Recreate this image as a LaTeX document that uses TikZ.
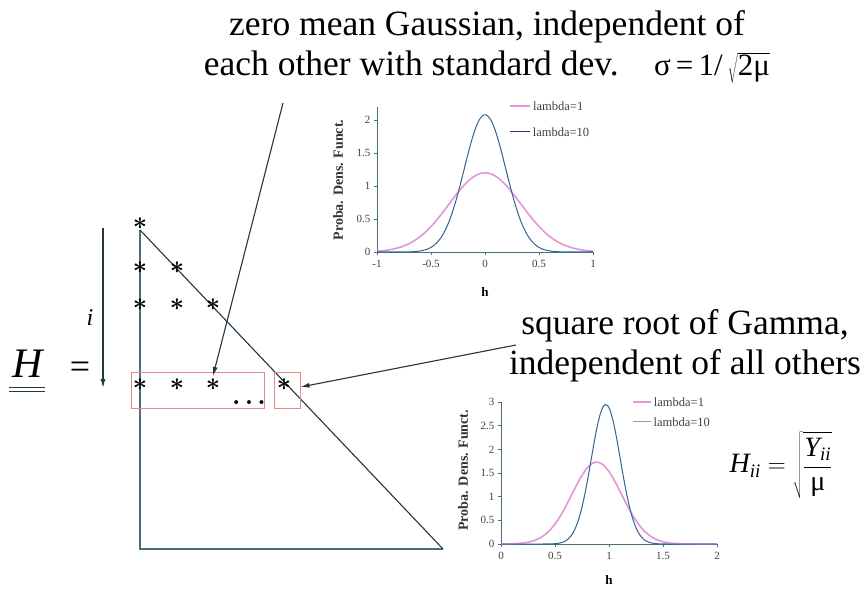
\documentclass[tikz,border=0pt]{standalone}
\usepackage{fontspec}
\setmainfont{Liberation Serif}
\usepackage{xcolor}
\usetikzlibrary{arrows.meta,positioning}
\definecolor{pinkline}{RGB}{228,150,218}
\definecolor{blueline}{RGB}{50,100,145}
\definecolor{axisline}{RGB}{75,110,125}
\definecolor{boxred}{RGB}{232,135,135}
\definecolor{inkline}{RGB}{35,55,65}
\tikzset{
  heading/.style={
    align=center,
    inner sep=0pt,
    font=\fontsize{35.5}{40}\selectfont
  },
  ast/.style={
    inner sep=0pt,
    font=\fontsize{34}{34}\selectfont\boldmath
  },
  selbox/.style={
    draw=boxred,
    line width=1pt,
    minimum height=36pt,
    inner sep=0pt
  },
  plainline/.style={draw=inkline, line width=1.1pt},
  flow/.style={-{Latex[length=9pt,width=5pt]}, draw=inkline, line width=1.1pt},
  chartaxis/.style={draw=axisline, line width=0.9pt},
  ticklab/.style={font=\fontsize{11}{11}\selectfont, text=black!75, inner sep=1pt},
  legtext/.style={font=\fontsize{12.5}{13}\selectfont, text=black!75, anchor=west, inner sep=1pt},
  ylab/.style={font=\fontsize{14}{14}\selectfont\bfseries, rotate=90, text=black!80},
  curveA/.style={draw=pinkline, line width=1.6pt},
  curveB/.style={draw=blueline, line width=1pt}
}

\begin{document}
\begin{tikzpicture}[x=1pt, y=1pt]
  \fill[white] (0,0) rectangle (866,590);
  \path[use as bounding box] (0,0) rectangle (866,590);

  % headings
  \node[heading] (gaussText) at (487,543) {zero mean Gaussian, independent of\\each other with standard dev.\quad{\fontsize{31}{40}\selectfont σ\,=\,1/\,$\sqrt{\mbox{2μ}}$}};
  \node[heading] (gammaText) at (685,244) {square root of Gamma,\\independent of all others};

  % the matrix H
  \node[anchor=base, inner sep=0pt, font=\fontsize{42}{42}\selectfont\itshape] (hMat) at (28,213) {H};
  \draw[plainline, line width=1pt] ([xshift=-4pt, yshift=-10pt]hMat.base west) -- ([xshift=2pt, yshift=-10pt]hMat.base east);
  \draw[plainline, line width=1pt] ([xshift=-4pt, yshift=-14pt]hMat.base west) -- ([xshift=2pt, yshift=-14pt]hMat.base east);
  \node[font=\fontsize{36}{36}\selectfont] (eqSign) at (80,220) {=};
  \node[font=\fontsize{24}{24}\selectfont\itshape] (rowIdx) at (90,272) {i};
  \coordinate (iTop) at (103,362);
  \coordinate (iBot) at (103,202);
  \draw[flow] (iTop) -- (iBot);

  \coordinate (triTop) at (140,360);
  \coordinate (triCorner) at (140,41);
  \coordinate (triEnd) at (443,41);
  \draw[plainline, draw=axisline] (triTop) -- (triCorner) -- (triEnd);
  \draw[plainline] (triTop) -- (triEnd);

  \node[ast] (r1c1) at (140,366) {$\ast$};
  \node[ast] (r2c1) at (140,322) {$\ast$};
  \node[ast] (r2c2) at (177,322) {$\ast$};
  \node[ast] (r3c1) at (140,285) {$\ast$};
  \node[ast] (r3c2) at (177,285) {$\ast$};
  \node[ast] (r3c3) at (213,285) {$\ast$};
  \node[ast] (r4c1) at (140,205) {$\ast$};
  \node[ast] (r4c2) at (177,205) {$\ast$};
  \node[ast] (r4c3) at (213,205) {$\ast$};
  \node[ast, anchor=base, font=\fontsize{24}{24}\selectfont\boldmath] (r4dots) at (249,186) {$\ldots$};
  \node[ast] (r4diag) at (284,205) {$\ast$};

  \node[selbox, minimum width=133pt] (rowBox) at (197.5,200) {};
  \node[selbox, minimum width=26pt] (diagBox) at (287,200) {};

  \coordinate (gaussTail) at (283,487);
  \coordinate (gammaTail) at (516,245);
  \draw[flow] (gaussTail) -- ([yshift=3pt]r4c3.north);
  \draw[flow] (gammaTail) -- ([yshift=3pt]diagBox.east);

  % chart of the off-diagonal entries
  \begin{scope}[shift={(485,338)}, x=108pt, y=66pt]
    \draw[chartaxis] (-1,2.2) -- (-1,0) -- (1,0);
    \foreach \t in {-1,-0.5,0,0.5,1}
      \draw[chartaxis] (\t,0) -- (\t,-0.05) node[ticklab, below=3pt] {\t};
    \foreach \t in {0,0.5,1,1.5,2}
      \draw[chartaxis] (-1,\t) -- (-1.03,\t) node[ticklab, left=2pt] {\t};
    \draw[curveA] plot[domain=-1:1, samples=90, smooth] (\x, {1.2*exp(-(\x)^2/(2*0.332^2))});
    \draw[curveB] plot[domain=-1:1, samples=90, smooth] (\x, {2.08*exp(-(\x)^2/(2*0.192^2))});
    \draw[curveA] (0.23,2.21) -- (0.42,2.21) node[legtext, right=1pt] (legA1) {lambda=1};
    \draw[curveB, draw=blue!45!black!80] (0.23,1.82) -- (0.42,1.82) node[legtext, right=1pt] (legB1) {lambda=10};
    \node[ylab] (ylabA) at (-1.36,1.09) {Proba. Dens. Funct.};
    \node[font=\fontsize{13}{13}\selectfont\bfseries] (xlabA) at (0,-0.61) {h};
  \end{scope}

  % chart of the diagonal entries
  \begin{scope}[shift={(501,46)}, x=108pt, y=47.3pt]
    \draw[chartaxis] (0,3) -- (0,0) -- (2,0);
    \foreach \t in {0,0.5,1,1.5,2}
      \draw[chartaxis] (\t,0) -- (\t,-0.07) node[ticklab, below=3pt] {\t};
    \foreach \t in {0,0.5,1,1.5,2,2.5,3}
      \draw[chartaxis] (0,\t) -- (-0.03,\t) node[ticklab, left=2pt] {\t};
    \draw[curveA] plot[domain=0:2, samples=90, smooth] (\x, {1.73*exp(-(\x-0.886)^2/(2*0.23^2))});
    \draw[curveB] plot[domain=0:2, samples=90, smooth] (\x, {2.95*exp(-(\x-0.97)^2/(2*0.135^2))});
    \draw[curveA] (1.22,3.0) -- (1.39,3.0) node[legtext, right=1pt] (legA2) {lambda=1};
    \draw[curveB, draw=blueline!60] (1.22,2.58) -- (1.39,2.58) node[legtext, right=1pt] (legB2) {lambda=10};
    \node[ylab] (ylabB) at (-0.35,1.56) {Proba. Dens. Funct.};
    \node[font=\fontsize{13}{13}\selectfont\bfseries] (xlabB) at (1,-0.76) {h};
  \end{scope}

  \node[font=\fontsize{28}{28}\selectfont] (hFormula) at (781,125)
    {$\displaystyle\mbox{\itshape H}_{\mbox{\fontsize{19}{19}\selectfont\itshape ii}}
      = \sqrt{\frac{\mbox{\itshape Y}_{\mbox{\fontsize{19}{19}\selectfont\itshape ii}}}{\mbox{μ}}}$};
\end{tikzpicture}
\end{document}
